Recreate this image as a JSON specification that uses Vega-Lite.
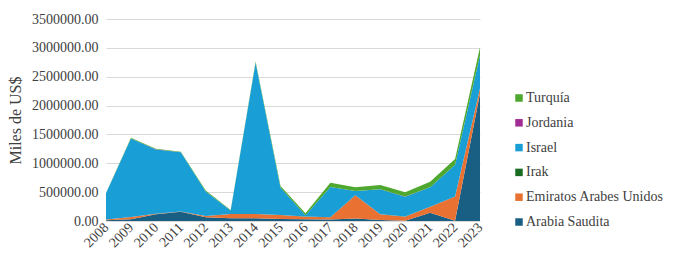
{
  "$schema": "https://vega.github.io/schema/vega-lite/v6.json",
  "width": 374,
  "height": 202,
  "autosize": {"type": "none"},
  "padding": {"left": 106, "top": 19, "right": 194, "bottom": 51},
  "background": "white",
  "config": {
    "view": {"stroke": null},
    "font": "Liberation Serif",
    "axis": {"labelFont": "Liberation Serif", "titleFont": "Liberation Serif"},
    "legend": {"labelFont": "Liberation Serif"}
  },
  "data": {
    "values": [
      {"anio": "2008", "pais": "Arabia Saudita", "orden": 1, "valor": 15000},
      {"anio": "2009", "pais": "Arabia Saudita", "orden": 1, "valor": 30000},
      {"anio": "2010", "pais": "Arabia Saudita", "orden": 1, "valor": 115000},
      {"anio": "2011", "pais": "Arabia Saudita", "orden": 1, "valor": 160000},
      {"anio": "2012", "pais": "Arabia Saudita", "orden": 1, "valor": 65000},
      {"anio": "2013", "pais": "Arabia Saudita", "orden": 1, "valor": 47000},
      {"anio": "2014", "pais": "Arabia Saudita", "orden": 1, "valor": 47000},
      {"anio": "2015", "pais": "Arabia Saudita", "orden": 1, "valor": 35000},
      {"anio": "2016", "pais": "Arabia Saudita", "orden": 1, "valor": 30000},
      {"anio": "2017", "pais": "Arabia Saudita", "orden": 1, "valor": 25000},
      {"anio": "2018", "pais": "Arabia Saudita", "orden": 1, "valor": 45000},
      {"anio": "2019", "pais": "Arabia Saudita", "orden": 1, "valor": 17000},
      {"anio": "2020", "pais": "Arabia Saudita", "orden": 1, "valor": 5000},
      {"anio": "2021", "pais": "Arabia Saudita", "orden": 1, "valor": 144000},
      {"anio": "2022", "pais": "Arabia Saudita", "orden": 1, "valor": 5000},
      {"anio": "2023", "pais": "Arabia Saudita", "orden": 1, "valor": 2210000},

      {"anio": "2008", "pais": "Emiratos Arabes Unidos", "orden": 2, "valor": 10000},
      {"anio": "2009", "pais": "Emiratos Arabes Unidos", "orden": 2, "valor": 40000},
      {"anio": "2010", "pais": "Emiratos Arabes Unidos", "orden": 2, "valor": 10000},
      {"anio": "2011", "pais": "Emiratos Arabes Unidos", "orden": 2, "valor": 5000},
      {"anio": "2012", "pais": "Emiratos Arabes Unidos", "orden": 2, "valor": 20000},
      {"anio": "2013", "pais": "Emiratos Arabes Unidos", "orden": 2, "valor": 75000},
      {"anio": "2014", "pais": "Emiratos Arabes Unidos", "orden": 2, "valor": 75000},
      {"anio": "2015", "pais": "Emiratos Arabes Unidos", "orden": 2, "valor": 70000},
      {"anio": "2016", "pais": "Emiratos Arabes Unidos", "orden": 2, "valor": 45000},
      {"anio": "2017", "pais": "Emiratos Arabes Unidos", "orden": 2, "valor": 40000},
      {"anio": "2018", "pais": "Emiratos Arabes Unidos", "orden": 2, "valor": 400000},
      {"anio": "2019", "pais": "Emiratos Arabes Unidos", "orden": 2, "valor": 100000},
      {"anio": "2020", "pais": "Emiratos Arabes Unidos", "orden": 2, "valor": 70000},
      {"anio": "2021", "pais": "Emiratos Arabes Unidos", "orden": 2, "valor": 104000},
      {"anio": "2022", "pais": "Emiratos Arabes Unidos", "orden": 2, "valor": 420000},
      {"anio": "2023", "pais": "Emiratos Arabes Unidos", "orden": 2, "valor": 90000},

      {"anio": "2008", "pais": "Irak", "orden": 3, "valor": 1000},
      {"anio": "2009", "pais": "Irak", "orden": 3, "valor": 1000},
      {"anio": "2010", "pais": "Irak", "orden": 3, "valor": 1000},
      {"anio": "2011", "pais": "Irak", "orden": 3, "valor": 1000},
      {"anio": "2012", "pais": "Irak", "orden": 3, "valor": 1000},
      {"anio": "2013", "pais": "Irak", "orden": 3, "valor": 1000},
      {"anio": "2014", "pais": "Irak", "orden": 3, "valor": 1000},
      {"anio": "2015", "pais": "Irak", "orden": 3, "valor": 1000},
      {"anio": "2016", "pais": "Irak", "orden": 3, "valor": 1000},
      {"anio": "2017", "pais": "Irak", "orden": 3, "valor": 1000},
      {"anio": "2018", "pais": "Irak", "orden": 3, "valor": 1000},
      {"anio": "2019", "pais": "Irak", "orden": 3, "valor": 1000},
      {"anio": "2020", "pais": "Irak", "orden": 3, "valor": 1000},
      {"anio": "2021", "pais": "Irak", "orden": 3, "valor": 1000},
      {"anio": "2022", "pais": "Irak", "orden": 3, "valor": 1000},
      {"anio": "2023", "pais": "Irak", "orden": 3, "valor": 1000},

      {"anio": "2008", "pais": "Israel", "orden": 4, "valor": 454000},
      {"anio": "2009", "pais": "Israel", "orden": 4, "valor": 1360000},
      {"anio": "2010", "pais": "Israel", "orden": 4, "valor": 1115000},
      {"anio": "2011", "pais": "Israel", "orden": 4, "valor": 1025000},
      {"anio": "2012", "pais": "Israel", "orden": 4, "valor": 425000},
      {"anio": "2013", "pais": "Israel", "orden": 4, "valor": 58000},
      {"anio": "2014", "pais": "Israel", "orden": 4, "valor": 2618000},
      {"anio": "2015", "pais": "Israel", "orden": 4, "valor": 470000},
      {"anio": "2016", "pais": "Israel", "orden": 4, "valor": 23000},
      {"anio": "2017", "pais": "Israel", "orden": 4, "valor": 523000},
      {"anio": "2018", "pais": "Israel", "orden": 4, "valor": 75000},
      {"anio": "2019", "pais": "Israel", "orden": 4, "valor": 430000},
      {"anio": "2020", "pais": "Israel", "orden": 4, "valor": 346000},
      {"anio": "2021", "pais": "Israel", "orden": 4, "valor": 335000},
      {"anio": "2022", "pais": "Israel", "orden": 4, "valor": 548000},
      {"anio": "2023", "pais": "Israel", "orden": 4, "valor": 570000},

      {"anio": "2008", "pais": "Jordania", "orden": 5, "valor": 500},
      {"anio": "2009", "pais": "Jordania", "orden": 5, "valor": 500},
      {"anio": "2010", "pais": "Jordania", "orden": 5, "valor": 500},
      {"anio": "2011", "pais": "Jordania", "orden": 5, "valor": 500},
      {"anio": "2012", "pais": "Jordania", "orden": 5, "valor": 500},
      {"anio": "2013", "pais": "Jordania", "orden": 5, "valor": 500},
      {"anio": "2014", "pais": "Jordania", "orden": 5, "valor": 500},
      {"anio": "2015", "pais": "Jordania", "orden": 5, "valor": 500},
      {"anio": "2016", "pais": "Jordania", "orden": 5, "valor": 500},
      {"anio": "2017", "pais": "Jordania", "orden": 5, "valor": 500},
      {"anio": "2018", "pais": "Jordania", "orden": 5, "valor": 500},
      {"anio": "2019", "pais": "Jordania", "orden": 5, "valor": 500},
      {"anio": "2020", "pais": "Jordania", "orden": 5, "valor": 500},
      {"anio": "2021", "pais": "Jordania", "orden": 5, "valor": 500},
      {"anio": "2022", "pais": "Jordania", "orden": 5, "valor": 500},
      {"anio": "2023", "pais": "Jordania", "orden": 5, "valor": 500},

      {"anio": "2008", "pais": "Turquía", "orden": 6, "valor": 5000},
      {"anio": "2009", "pais": "Turquía", "orden": 6, "valor": 10000},
      {"anio": "2010", "pais": "Turquía", "orden": 6, "valor": 10000},
      {"anio": "2011", "pais": "Turquía", "orden": 6, "valor": 10000},
      {"anio": "2012", "pais": "Turquía", "orden": 6, "valor": 15000},
      {"anio": "2013", "pais": "Turquía", "orden": 6, "valor": 10000},
      {"anio": "2014", "pais": "Turquía", "orden": 6, "valor": 20000},
      {"anio": "2015", "pais": "Turquía", "orden": 6, "valor": 30000},
      {"anio": "2016", "pais": "Turquía", "orden": 6, "valor": 35000},
      {"anio": "2017", "pais": "Turquía", "orden": 6, "valor": 75000},
      {"anio": "2018", "pais": "Turquía", "orden": 6, "valor": 65000},
      {"anio": "2019", "pais": "Turquía", "orden": 6, "valor": 75000},
      {"anio": "2020", "pais": "Turquía", "orden": 6, "valor": 75000},
      {"anio": "2021", "pais": "Turquía", "orden": 6, "valor": 97000},
      {"anio": "2022", "pais": "Turquía", "orden": 6, "valor": 99000},
      {"anio": "2023", "pais": "Turquía", "orden": 6, "valor": 140000}
    ]
  },
  "mark": {"type": "area", "interpolate": "linear"},
  "encoding": {
    "x": {
      "field": "anio",
      "type": "ordinal",
      "scale": {"type": "point", "padding": 0},
      "axis": {
        "title": null,
        "labelAngle": -45,
        "labelAlign": "right",
        "labelBaseline": "middle",
        "labelFont": "Liberation Serif",
        "labelFontSize": 14,
        "labelColor": "#404040",
        "labelPadding": 4,
        "ticks": false,
        "domain": false,
        "grid": false
      }
    },
    "y": {
      "field": "valor",
      "type": "quantitative",
      "stack": "zero",
      "scale": {"domain": [0, 3500000], "nice": false},
      "axis": {
        "title": "Miles de US$",
        "titleFont": "Liberation Serif",
        "titleFontSize": 16,
        "titleFontWeight": "normal",
        "titleColor": "#404040",
        "titlePadding": 8,
        "format": ".2f",
        "values": [0, 500000, 1000000, 1500000, 2000000, 2500000, 3000000, 3500000],
        "labelFont": "Liberation Serif",
        "labelFontSize": 14,
        "labelColor": "#404040",
        "labelPadding": 8,
        "ticks": false,
        "domain": false,
        "gridColor": "#d9d9d9",
        "gridWidth": 1
      }
    },
    "order": {"field": "orden", "type": "quantitative", "sort": "ascending"},
    "color": {
      "field": "pais",
      "type": "nominal",
      "scale": {
        "domain": ["Turquía", "Jordania", "Israel", "Irak", "Emiratos Arabes Unidos", "Arabia Saudita"],
        "range": ["#4ea72e", "#a02b93", "#1a9ed6", "#196b24", "#e97132", "#195e83"]
      },
      "legend": {
        "title": null,
        "orient": "none",
        "legendX": 406,
        "legendY": 72,
        "symbolType": "square",
        "symbolSize": 56,
        "symbolStrokeWidth": 0,
        "labelFont": "Liberation Serif",
        "labelFontSize": 14,
        "labelColor": "#404040",
        "labelOffset": 0,
        "rowPadding": 10.8
      }
    }
  }
}
